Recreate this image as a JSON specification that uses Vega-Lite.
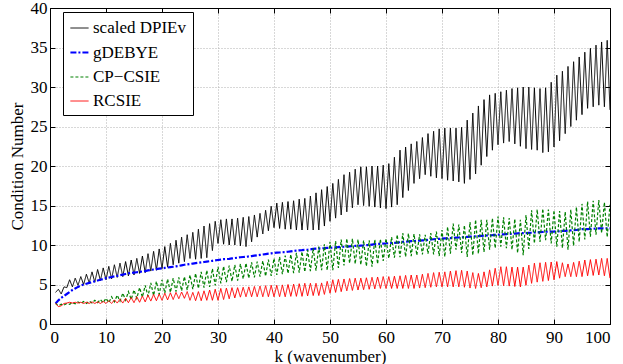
{
 "$schema": "https://vega.github.io/schema/vega-lite/v6.json",
 "width": 560, "height": 316,
 "autosize": "none",
 "padding": {"left": 50, "top": 8, "right": 13, "bottom": 40},
 "background": "white",
 "data": {"values": [
{"k":1,"a":4.0,"b":2.6,"c":2.6,"d":2.6},
{"k":1.5,"a":4.4,"b":3.0,"c":2.3,"d":2.2},
{"k":2,"a":3.8,"b":3.3,"c":2.5,"d":2.3},
{"k":2.5,"a":4.7,"b":3.55,"c":2.4,"d":2.6},
{"k":3,"a":4.6,"b":3.8,"c":2.6,"d":2.65},
{"k":3.5,"a":5.6,"b":4.05,"c":2.5,"d":2.75},
{"k":4,"a":4.7,"b":4.3,"c":2.7,"d":2.65},
{"k":4.5,"a":5.8,"b":4.5,"c":2.55,"d":2.75},
{"k":5,"a":4.9,"b":4.7,"c":2.8,"d":2.65},
{"k":5.5,"a":6.0,"b":4.85,"c":2.6,"d":2.75},
{"k":6,"a":5.0,"b":5.0,"c":2.85,"d":2.6},
{"k":6.5,"a":6.3,"b":5.1,"c":2.6,"d":2.75},
{"k":7,"a":5.2,"b":5.2,"c":2.9,"d":2.6},
{"k":7.5,"a":6.6,"b":5.3,"c":2.65,"d":2.8},
{"k":8,"a":5.3,"b":5.4,"c":3.0,"d":2.6},
{"k":8.5,"a":6.9,"b":5.5,"c":2.7,"d":2.8},
{"k":9,"a":5.5,"b":5.6,"c":3.1,"d":2.6},
{"k":9.5,"a":7.1,"b":5.7,"c":2.7,"d":2.85},
{"k":10,"a":5.6,"b":5.8,"c":3.25,"d":2.6},
{"k":10.5,"a":7.3,"b":5.88,"c":2.7,"d":2.95},
{"k":11,"a":5.7,"b":5.95,"c":3.45,"d":2.6},
{"k":11.5,"a":7.5,"b":6.03,"c":2.8,"d":3.05},
{"k":12,"a":5.9,"b":6.1,"c":3.65,"d":2.65},
{"k":12.5,"a":7.7,"b":6.18,"c":2.9,"d":3.15},
{"k":13,"a":6.0,"b":6.25,"c":3.9,"d":2.65},
{"k":13.5,"a":7.9,"b":6.33,"c":3.0,"d":3.25},
{"k":14,"a":6.1,"b":6.4,"c":4.1,"d":2.7},
{"k":14.5,"a":8.1,"b":6.45,"c":3.1,"d":3.35},
{"k":15,"a":6.2,"b":6.5,"c":4.3,"d":2.7},
{"k":15.5,"a":8.3,"b":6.55,"c":3.25,"d":3.45},
{"k":16,"a":6.4,"b":6.6,"c":4.6,"d":2.75},
{"k":16.5,"a":8.6,"b":6.65,"c":3.4,"d":3.55},
{"k":17,"a":6.5,"b":6.7,"c":4.9,"d":2.8},
{"k":17.5,"a":8.9,"b":6.78,"c":3.5,"d":3.65},
{"k":18,"a":6.7,"b":6.85,"c":5.2,"d":2.9},
{"k":18.5,"a":9.2,"b":6.9,"c":3.6,"d":3.75},
{"k":19,"a":6.8,"b":6.95,"c":5.4,"d":2.95},
{"k":19.5,"a":9.5,"b":7.0,"c":3.75,"d":3.8},
{"k":20,"a":7.0,"b":7.05,"c":5.6,"d":3.0},
{"k":20.5,"a":9.8,"b":7.1,"c":3.9,"d":3.9},
{"k":21,"a":7.2,"b":7.15,"c":5.7,"d":3.05},
{"k":21.5,"a":10.2,"b":7.2,"c":4.0,"d":3.95},
{"k":22,"a":7.5,"b":7.25,"c":5.8,"d":3.1},
{"k":22.5,"a":10.6,"b":7.3,"c":4.1,"d":4.0},
{"k":23,"a":7.7,"b":7.35,"c":5.9,"d":3.2},
{"k":23.5,"a":11.0,"b":7.43,"c":4.2,"d":4.05},
{"k":24,"a":7.9,"b":7.5,"c":6.0,"d":3.25},
{"k":24.5,"a":11.3,"b":7.55,"c":4.3,"d":4.1},
{"k":25,"a":8.3,"b":7.6,"c":6.2,"d":3.0},
{"k":25.5,"a":11.6,"b":7.65,"c":4.4,"d":4.0},
{"k":26,"a":8.2,"b":7.7,"c":6.4,"d":2.95},
{"k":26.5,"a":12.0,"b":7.75,"c":4.5,"d":4.1},
{"k":27,"a":8.3,"b":7.8,"c":6.6,"d":2.95},
{"k":27.5,"a":12.4,"b":7.85,"c":4.6,"d":4.2},
{"k":28,"a":8.4,"b":7.9,"c":6.8,"d":3.0},
{"k":28.5,"a":12.7,"b":7.95,"c":4.7,"d":4.3},
{"k":29,"a":9.3,"b":8.0,"c":7.0,"d":3.0},
{"k":29.5,"a":13.0,"b":8.05,"c":4.9,"d":4.4},
{"k":30,"a":10.2,"b":8.1,"c":7.25,"d":3.0},
{"k":30.5,"a":13.2,"b":8.15,"c":5.15,"d":4.5},
{"k":31,"a":10.1,"b":8.2,"c":7.3,"d":3.1},
{"k":31.5,"a":13.3,"b":8.22,"c":5.3,"d":4.55},
{"k":32,"a":10.0,"b":8.25,"c":7.4,"d":3.2},
{"k":32.5,"a":13.3,"b":8.3,"c":5.4,"d":4.6},
{"k":33,"a":10.0,"b":8.35,"c":7.5,"d":3.3},
{"k":33.5,"a":13.4,"b":8.4,"c":5.5,"d":4.6},
{"k":34,"a":9.9,"b":8.45,"c":7.6,"d":3.4},
{"k":34.5,"a":13.5,"b":8.48,"c":5.7,"d":4.65},
{"k":35,"a":9.8,"b":8.5,"c":7.7,"d":3.45},
{"k":35.5,"a":13.6,"b":8.55,"c":5.8,"d":4.7},
{"k":36,"a":10.4,"b":8.6,"c":7.8,"d":3.45},
{"k":36.5,"a":13.8,"b":8.65,"c":5.9,"d":4.75},
{"k":37,"a":11.0,"b":8.7,"c":7.9,"d":3.45},
{"k":37.5,"a":14.0,"b":8.75,"c":6.0,"d":4.8},
{"k":38,"a":11.4,"b":8.8,"c":8.0,"d":3.45},
{"k":38.5,"a":14.4,"b":8.85,"c":6.05,"d":4.85},
{"k":39,"a":11.8,"b":8.9,"c":8.15,"d":3.45},
{"k":39.5,"a":14.9,"b":8.95,"c":6.1,"d":4.9},
{"k":40,"a":12.2,"b":9.0,"c":8.3,"d":3.45},
{"k":40.5,"a":15.3,"b":9.03,"c":6.2,"d":4.9},
{"k":41,"a":12.1,"b":9.05,"c":8.5,"d":3.45},
{"k":41.5,"a":15.4,"b":9.08,"c":6.3,"d":4.95},
{"k":42,"a":12.0,"b":9.1,"c":8.65,"d":3.45},
{"k":42.5,"a":15.5,"b":9.15,"c":6.4,"d":5.0},
{"k":43,"a":12.0,"b":9.2,"c":8.8,"d":3.5},
{"k":43.5,"a":15.6,"b":9.25,"c":6.45,"d":5.05},
{"k":44,"a":11.9,"b":9.3,"c":9.0,"d":3.5},
{"k":44.5,"a":15.8,"b":9.33,"c":6.5,"d":5.1},
{"k":45,"a":11.9,"b":9.35,"c":9.15,"d":3.5},
{"k":45.5,"a":15.9,"b":9.38,"c":6.6,"d":5.15},
{"k":46,"a":11.9,"b":9.4,"c":9.35,"d":3.55},
{"k":46.5,"a":16.2,"b":9.45,"c":6.7,"d":5.15},
{"k":47,"a":11.9,"b":9.5,"c":9.6,"d":3.6},
{"k":47.5,"a":16.6,"b":9.53,"c":6.75,"d":5.15},
{"k":48,"a":11.9,"b":9.55,"c":9.8,"d":3.6},
{"k":48.5,"a":17.0,"b":9.58,"c":6.8,"d":5.2},
{"k":49,"a":12.4,"b":9.6,"c":10.1,"d":3.75},
{"k":49.5,"a":17.4,"b":9.63,"c":6.8,"d":5.4},
{"k":50,"a":13.0,"b":9.65,"c":10.4,"d":3.9},
{"k":50.5,"a":17.8,"b":9.68,"c":6.8,"d":5.6},
{"k":51,"a":13.4,"b":9.7,"c":10.5,"d":4.0},
{"k":51.5,"a":18.3,"b":9.73,"c":7.1,"d":5.65},
{"k":52,"a":13.8,"b":9.75,"c":10.7,"d":4.1},
{"k":52.5,"a":18.9,"b":9.78,"c":7.4,"d":5.7},
{"k":53,"a":14.2,"b":9.8,"c":10.8,"d":4.2},
{"k":53.5,"a":19.2,"b":9.83,"c":7.7,"d":5.75},
{"k":54,"a":14.7,"b":9.85,"c":10.8,"d":4.25},
{"k":54.5,"a":19.6,"b":9.88,"c":7.6,"d":5.8},
{"k":55,"a":15.1,"b":9.9,"c":10.7,"d":4.3},
{"k":55.5,"a":19.9,"b":9.93,"c":7.5,"d":5.8},
{"k":56,"a":15.0,"b":9.95,"c":10.6,"d":4.35},
{"k":56.5,"a":19.9,"b":9.98,"c":7.3,"d":5.85},
{"k":57,"a":14.9,"b":10.0,"c":10.6,"d":4.4},
{"k":57.5,"a":20.0,"b":10.05,"c":7.25,"d":5.9},
{"k":58,"a":14.8,"b":10.1,"c":10.7,"d":4.45},
{"k":58.5,"a":20.0,"b":10.13,"c":7.6,"d":5.95},
{"k":59,"a":14.7,"b":10.15,"c":10.75,"d":4.5},
{"k":59.5,"a":20.1,"b":10.18,"c":8.0,"d":6.0},
{"k":60,"a":14.6,"b":10.2,"c":10.8,"d":4.5},
{"k":60.5,"a":20.3,"b":10.23,"c":8.3,"d":6.0},
{"k":61,"a":14.8,"b":10.25,"c":11.0,"d":4.5},
{"k":61.5,"a":21.1,"b":10.28,"c":8.4,"d":6.05},
{"k":62,"a":15.1,"b":10.3,"c":11.3,"d":4.5},
{"k":62.5,"a":22.0,"b":10.35,"c":8.45,"d":6.1},
{"k":63,"a":16.0,"b":10.4,"c":11.5,"d":4.5},
{"k":63.5,"a":22.4,"b":10.43,"c":8.5,"d":6.15},
{"k":64,"a":16.9,"b":10.45,"c":11.45,"d":4.5},
{"k":64.5,"a":22.8,"b":10.48,"c":8.6,"d":6.2},
{"k":65,"a":17.8,"b":10.5,"c":11.4,"d":4.5},
{"k":65.5,"a":23.1,"b":10.53,"c":8.7,"d":6.2},
{"k":66,"a":18.4,"b":10.55,"c":11.35,"d":4.55},
{"k":66.5,"a":23.6,"b":10.58,"c":8.8,"d":6.3},
{"k":67,"a":18.9,"b":10.6,"c":11.3,"d":4.6},
{"k":67.5,"a":24.1,"b":10.65,"c":8.9,"d":6.4},
{"k":68,"a":18.7,"b":10.7,"c":11.5,"d":4.65},
{"k":68.5,"a":24.4,"b":10.73,"c":8.8,"d":6.5},
{"k":69,"a":18.5,"b":10.75,"c":11.7,"d":4.7},
{"k":69.5,"a":24.7,"b":10.78,"c":8.6,"d":6.55},
{"k":70,"a":18.4,"b":10.8,"c":11.9,"d":4.7},
{"k":70.5,"a":24.8,"b":10.83,"c":8.5,"d":6.6},
{"k":71,"a":18.2,"b":10.85,"c":12.3,"d":4.7},
{"k":71.5,"a":24.8,"b":10.88,"c":8.9,"d":6.7},
{"k":72,"a":18.1,"b":10.9,"c":12.7,"d":4.7},
{"k":72.5,"a":24.8,"b":10.93,"c":9.4,"d":6.75},
{"k":73,"a":18.0,"b":10.95,"c":12.6,"d":4.7},
{"k":73.5,"a":24.9,"b":10.98,"c":9.0,"d":6.8},
{"k":74,"a":17.8,"b":11.0,"c":12.5,"d":4.65},
{"k":74.5,"a":25.8,"b":11.03,"c":8.5,"d":6.7},
{"k":75,"a":18.3,"b":11.05,"c":12.9,"d":4.55},
{"k":75.5,"a":26.7,"b":11.08,"c":8.7,"d":6.5},
{"k":76,"a":19.0,"b":11.1,"c":13.2,"d":4.5},
{"k":76.5,"a":27.6,"b":11.13,"c":8.9,"d":6.4},
{"k":77,"a":20.1,"b":11.15,"c":13.2,"d":4.6},
{"k":77.5,"a":28.4,"b":11.18,"c":9.1,"d":6.6},
{"k":78,"a":21.2,"b":11.2,"c":13.2,"d":4.7},
{"k":78.5,"a":29.0,"b":11.23,"c":9.4,"d":6.85},
{"k":79,"a":22.0,"b":11.25,"c":13.4,"d":4.8},
{"k":79.5,"a":29.2,"b":11.28,"c":9.6,"d":7.05},
{"k":80,"a":22.7,"b":11.3,"c":13.6,"d":4.9},
{"k":80.5,"a":29.4,"b":11.33,"c":9.8,"d":7.25},
{"k":81,"a":22.9,"b":11.35,"c":13.5,"d":4.85},
{"k":81.5,"a":29.6,"b":11.38,"c":9.6,"d":7.25},
{"k":82,"a":23.1,"b":11.4,"c":13.4,"d":4.8},
{"k":82.5,"a":29.8,"b":11.43,"c":9.4,"d":7.2},
{"k":83,"a":22.8,"b":11.45,"c":13.3,"d":4.75},
{"k":83.5,"a":29.9,"b":11.48,"c":9.0,"d":7.2},
{"k":84,"a":22.5,"b":11.5,"c":13.2,"d":4.7},
{"k":84.5,"a":30.0,"b":11.5,"c":8.7,"d":7.2},
{"k":85,"a":22.2,"b":11.5,"c":13.8,"d":4.9},
{"k":85.5,"a":30.0,"b":11.53,"c":9.5,"d":7.45},
{"k":86,"a":22.1,"b":11.55,"c":14.4,"d":5.15},
{"k":86.5,"a":29.9,"b":11.58,"c":10.2,"d":7.7},
{"k":87,"a":22.0,"b":11.6,"c":14.5,"d":5.3},
{"k":87.5,"a":29.8,"b":11.63,"c":10.4,"d":7.75},
{"k":88,"a":21.7,"b":11.65,"c":14.6,"d":5.4},
{"k":88.5,"a":29.9,"b":11.68,"c":10.6,"d":7.8},
{"k":89,"a":21.8,"b":11.7,"c":14.5,"d":5.5},
{"k":89.5,"a":30.6,"b":11.7,"c":10.2,"d":7.85},
{"k":90,"a":22.4,"b":11.7,"c":14.4,"d":5.6},
{"k":90.5,"a":31.5,"b":11.73,"c":9.8,"d":7.9},
{"k":91,"a":23.2,"b":11.75,"c":14.3,"d":5.8},
{"k":91.5,"a":32.0,"b":11.78,"c":9.6,"d":7.75},
{"k":92,"a":24.1,"b":11.8,"c":14.2,"d":6.0},
{"k":92.5,"a":32.6,"b":11.83,"c":9.4,"d":7.6},
{"k":93,"a":25.0,"b":11.85,"c":14.5,"d":6.0},
{"k":93.5,"a":33.2,"b":11.88,"c":9.9,"d":7.8},
{"k":94,"a":25.8,"b":11.9,"c":14.8,"d":6.0},
{"k":94.5,"a":33.8,"b":11.95,"c":10.4,"d":7.95},
{"k":95,"a":26.5,"b":12.0,"c":15.2,"d":6.0},
{"k":95.5,"a":34.4,"b":12.0,"c":10.7,"d":8.1},
{"k":96,"a":27.3,"b":12.0,"c":15.5,"d":6.1},
{"k":96.5,"a":34.9,"b":12.03,"c":11.05,"d":8.15},
{"k":97,"a":27.5,"b":12.05,"c":15.6,"d":6.15},
{"k":97.5,"a":35.3,"b":12.08,"c":11.3,"d":8.2},
{"k":98,"a":27.7,"b":12.1,"c":15.7,"d":6.2},
{"k":98.5,"a":35.7,"b":12.1,"c":11.5,"d":8.3},
{"k":99,"a":27.5,"b":12.1,"c":15.4,"d":6.1},
{"k":99.5,"a":35.9,"b":12.1,"c":11.0,"d":8.3},
{"k":100,"a":27.1,"b":12.1,"c":15.1,"d":5.8}
 ]},
 "transform": [{"fold": ["a","b","c","d"], "as": ["s","v"]}],
 "layer": [
  {
   "mark": {"type": "line", "clip": true},
   "encoding": {
    "x": {"field": "k", "type": "quantitative", "scale": {"domain": [0,100], "nice": false},
          "axis": {"orient": "bottom", "values": [0,10,20,30,40,50,60,70,80,90,100], "title": "k (wavenumber)", "grid": true,
                   "labelPadding": 10, "titlePadding": 3, "labelFont": "Liberation Serif", "titleFont": "Liberation Serif"}},
    "y": {"field": "v", "type": "quantitative", "scale": {"domain": [0,40], "nice": false},
          "axis": {"orient": "left", "values": [0,5,10,15,20,25,30,35,40], "title": "Condition Number", "grid": true,
                   "labelPadding": 8, "titlePadding": 4, "labelFont": "Liberation Serif", "titleFont": "Liberation Serif"}},
    "color": {"field": "s", "type": "nominal",
              "scale": {"domain": ["a","b","c","d"], "range": ["#000000","#0000ff","#008000","#ff0000"]},
              "legend": {"title": null, "orient": "none", "legendX": 13, "legendY": 4,
                         "labelExpr": "datum.label == 'a' ? 'scaled DPIEv' : datum.label == 'b' ? 'gDEBYE' : datum.label == 'c' ? 'CP−CSIE' : 'RCSIE'"}},
    "strokeDash": {"field": "s", "type": "nominal",
              "scale": {"domain": ["a","b","c","d"], "range": [[1,0],[6,2,2,2],[3,2],[1,0]]},
              "legend": {"title": null, "orient": "none", "legendX": 13, "legendY": 4,
                         "labelExpr": "datum.label == 'a' ? 'scaled DPIEv' : datum.label == 'b' ? 'gDEBYE' : datum.label == 'c' ? 'CP−CSIE' : 'RCSIE'"}},
    "strokeWidth": {"field": "s", "type": "nominal",
              "scale": {"type": "ordinal", "domain": ["a","b","c","d"], "range": [1,2.2,1.2,1]},
              "legend": null}
   }
  },
  {
   "mark": {"type": "line", "opacity": 0},
   "encoding": {
    "x": {"field": "k", "type": "quantitative",
          "axis": {"orient": "top", "values": [0,10,20,30,40,50,60,70,80,90,100], "labels": false, "title": null, "grid": false}},
    "y": {"field": "v", "type": "quantitative",
          "axis": {"orient": "right", "values": [0,5,10,15,20,25,30,35,40], "labels": false, "title": null, "grid": false}},
    "detail": {"field": "s"}
   }
  }
 ],
 "resolve": {"axis": {"x": "independent", "y": "independent"}},
 "config": {
  "font": "Liberation Serif",
  "view": {"stroke": "black", "strokeWidth": 1},
  "axis": {"labelFont": "Liberation Serif", "titleFont": "Liberation Serif", "labelFontSize": 17, "titleFontSize": 17,
           "titleFontWeight": "normal", "labelColor": "black", "titleColor": "black", "domainColor": "black",
           "tickColor": "black", "tickSize": -5, "gridColor": "#b0b0b0", "gridDash": [1,2], "gridWidth": 1},
  "legend": {"labelFont": "Liberation Serif", "labelFontSize": 17, "labelColor": "black", "strokeColor": "black",
             "fillColor": "white", "padding": 6, "symbolType": "stroke", "symbolSize": 330, "symbolStrokeWidth": 1.5,
             "rowPadding": 6, "labelLimit": 300, "labelOffset": 3}
 }
}
